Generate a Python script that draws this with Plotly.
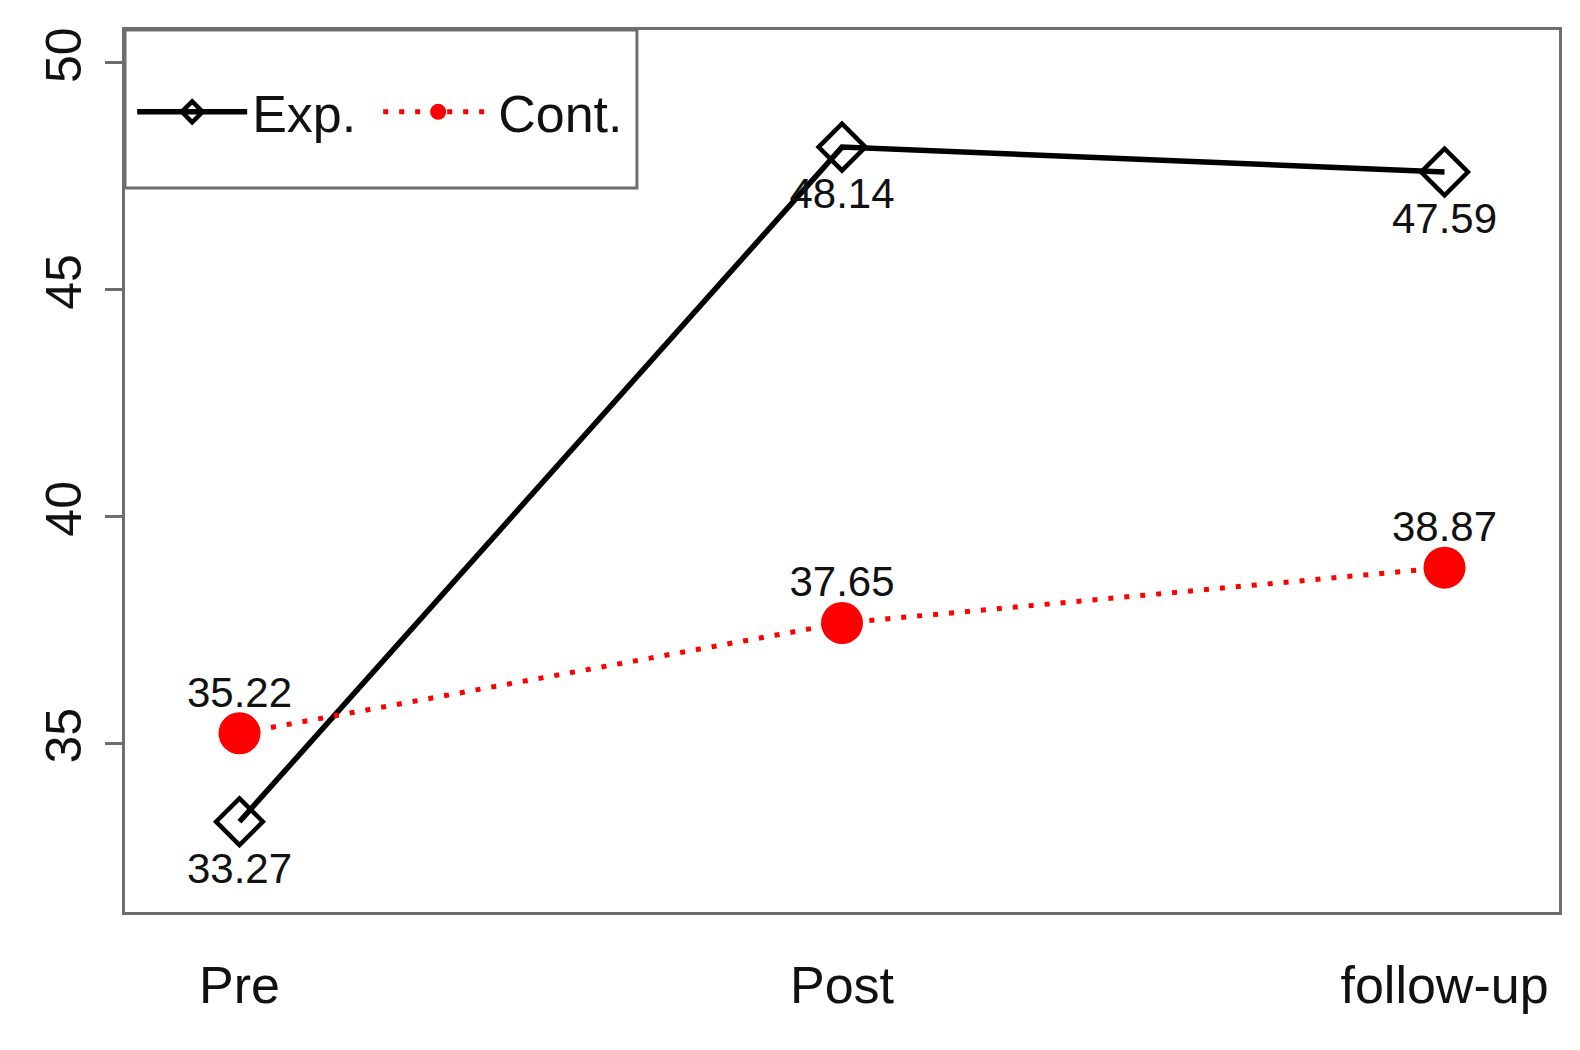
import plotly.graph_objects as go

# time points and group means
time_points = [1, 2, 3]
time_labels = ["Pre", "Post", "follow-up"]
exp_means = [33.27, 48.14, 47.59]
cont_means = [35.22, 37.65, 38.87]
y_ticks = [35, 40, 45, 50]

FONT = "Liberation Sans, Arial, sans-serif"
FRAME = "#6e6e6e"

fig = go.Figure()

fig.add_trace(go.Scatter(
    x=time_points,
    y=exp_means,
    name="Exp.",
    mode="lines+markers",
    line=dict(color="black", width=5.5),
    marker=dict(symbol="diamond-open", size=36, color="black", line=dict(width=4.5, color="black")),
))

fig.add_trace(go.Scatter(
    x=time_points,
    y=cont_means,
    name="Cont.",
    mode="lines+markers",
    line=dict(color="#ff0000", width=5, dash="5px,11px"),
    marker=dict(symbol="circle", size=42, color="#ff0000"),
))

# value labels: invisible markers whose size sets how far the text sits from the point
fig.add_trace(go.Scatter(
    x=time_points,
    y=exp_means,
    mode="markers+text",
    marker=dict(size=46, opacity=0),
    text=[f"{v:.2f}" for v in exp_means],
    textposition="bottom center",
    textfont=dict(family=FONT, size=42, color="#111111"),
    showlegend=False,
    hoverinfo="skip",
))
fig.add_trace(go.Scatter(
    x=time_points,
    y=cont_means,
    mode="markers+text",
    marker=dict(size=24, opacity=0),
    text=[f"{v:.2f}" for v in cont_means],
    textposition="top center",
    textfont=dict(family=FONT, size=42, color="#111111"),
    showlegend=False,
    hoverinfo="skip",
))

# legend frame in the top left corner of the plot box
fig.add_shape(
    type="rect", xref="paper", yref="paper",
    x0=0, x1=0.357, y0=0.821, y1=1,
    line=dict(color=FRAME, width=3),
    fillcolor="white", layer="below",
)

# the page body adds an 8px offset, so the figure is a bit smaller than the window
fig.update_layout(
    width=1564,
    height=1034,
    paper_bgcolor="white",
    plot_bgcolor="white",
    margin=dict(l=117, r=13, t=22, b=130),
    showlegend=True,
    legend=dict(
        orientation="h",
        x=0.005, y=0.907,
        xanchor="left", yanchor="middle",
        bgcolor="rgba(0,0,0,0)",
        font=dict(family=FONT, size=52, color="#111111"),
        entrywidth=121,
        itemwidth=110,
    ),
    xaxis=dict(
        range=[0.81, 3.19],
        tickvals=time_points,
        ticktext=time_labels,
        ticks="",
        showgrid=False,
        zeroline=False,
        showline=True,
        linecolor=FRAME,
        linewidth=3,
        mirror=True,
        automargin=False,
        ticklabelstandoff=26,
        tickfont=dict(family=FONT, size=52, color="#111111"),
    ),
    yaxis=dict(
        range=[31.28, 50.72],
        tickvals=y_ticks,
        ticks="outside",
        ticklen=17,
        tickwidth=3,
        tickcolor=FRAME,
        tickangle=-90,
        showgrid=False,
        zeroline=False,
        showline=True,
        linecolor=FRAME,
        linewidth=3,
        mirror=True,
        automargin=False,
        ticklabelstandoff=4,
        tickfont=dict(family=FONT, size=50, color="#111111"),
    ),
)

fig.write_html("out.html")
